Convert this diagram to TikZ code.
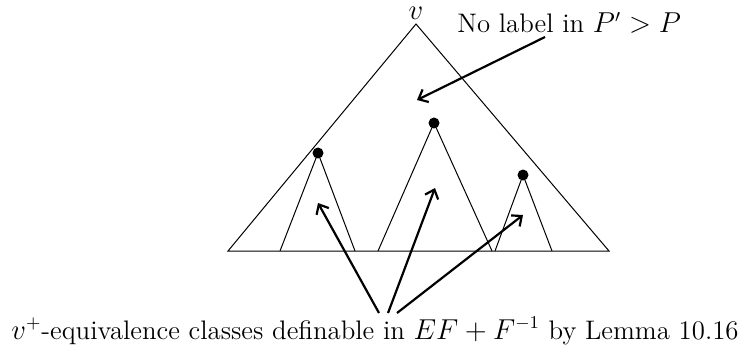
\documentclass[tikz,border=0pt]{standalone}
\usetikzlibrary{arrows.meta}
\begin{document}
\begin{tikzpicture}[x=0.5pt,y=-0.5pt,
  thinline/.style={line width=0.5pt},
  dotmark/.style={circle,fill=black,inner sep=0pt,minimum size=5.5pt},
  bigarrow/.style={line width=1.1pt,-{Straight Barb[length=4pt,width=7pt]}},
  lbl/.style={font=\fontsize{13.4}{15}\selectfont,inner sep=0pt}]
\useasboundingbox (0,0) rectangle (747,347);
% big triangle
\coordinate (top) at (416,24);
\coordinate (bl) at (228,251);
\coordinate (br) at (609,251);
\draw[thinline] (bl) -- (top) -- (br) -- cycle;
% subtrees
\node[dotmark] (d1) at (318,153) {};
\node[dotmark] (d2) at (434,123) {};
\node[dotmark] (d3) at (523,175) {};
\coordinate (l1) at (280,251); \coordinate (r1) at (355,251);
\coordinate (l2) at (378,251); \coordinate (r2) at (492,251);
\coordinate (l3) at (495,251); \coordinate (r3) at (552,251);
\draw[thinline] (l1) -- (d1.center) -- (r1);
\draw[thinline] (l2) -- (d2.center) -- (r2);
\draw[thinline] (l3) -- (d3.center) -- (r3);
% labels
\node[lbl] (v) at (416,13) {$v$};
\node[lbl,anchor=base west] (nolab) at (457,33) {No label in $P' > P$};
\coordinate (nolabend) at (545,37);
\coordinate (toparrow) at (417,100);
\draw[bigarrow] (nolabend) -- (toparrow);
\node[lbl] (bottom) at (375,331) {$v^+$-equivalence classes definable in $EF+F^{-1}$ by Lemma 10.16};
\coordinate (s1) at (379,313);
\coordinate (s2) at (388,313);
\coordinate (s3) at (397,313);
\coordinate (t1) at (318,203);
\coordinate (t2) at (435,188);
\coordinate (t3) at (523,215);
\draw[bigarrow] (s1) -- (t1);
\draw[bigarrow] (s2) -- (t2);
\draw[bigarrow] (s3) -- (t3);
\end{tikzpicture}
\end{document}
